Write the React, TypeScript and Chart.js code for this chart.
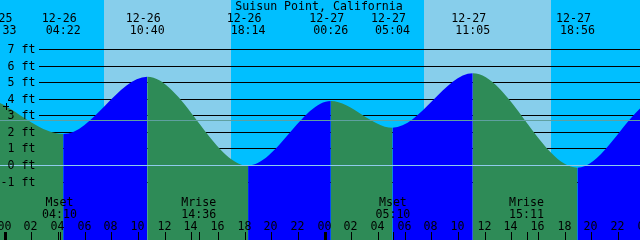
import React, { useEffect, useRef } from "react";
import { Chart, registerables } from "chart.js";

Chart.register(...registerables);

// ---- data ----
const title = "Suisun Point, California";
// tide extremes (day offset relative to 12-26, local time, height in ft)
const tideDates = ["12-25", "12-26", "12-26", "12-26", "12-27", "12-27", "12-27", "12-27"];
const tideTimes = ["23:33", "04:22", "10:40", "18:14", "00:26", "05:04", "11:05", "18:56"];
const tideDayOffset = [-1, 0, 0, 0, 1, 1, 1, 1];
const tideHeights = [3.8, 1.9, 5.37, 0.0, 3.9, 2.28, 5.57, -0.13];
// height read at the right edge of the picture (hours from 12-26 00:00, ft)
const edgeHour = 47.625;
const edgeHeight = 3.45;

// sunrise / sunset (hours from 12-26 00:00)
const sunrises = [7.43, 31.43];
const sunsets = [16.95, 40.95];

// moon events
const moonLabels = ["Mset", "Mrise", "Mset", "Mrise"];
const moonTimes = ["04:10", "14:36", "05:10", "15:11"];
const moonDayOffset = [0, 0, 1, 1];

// axes
const heightTicks = [-1, 0, 1, 2, 3, 4, 5, 6, 7];
const meanLevel = 2.75;
const xMin = -0.375;
const xMax = 47.625;
const yMin = -4.5;
const yMax = 10;
const hourTicks = [0, 2, 4, 6, 8, 10, 12, 14, 16, 18, 20, 22, 24, 26, 28, 30, 32, 34, 36, 38, 40, 42, 44, 46, 48];

// ---- styles ----
const NIGHT = "#00BFFF";
const DAY = "#87CEEB";
const FLOOD = "#0000FF";
const EBB = "#2E8B57";
const FONT = "11.6px 'DejaVu Sans Mono', monospace";

const toHours = (t: string, day: number) => {
  const [h, m] = t.split(":").map(Number);
  return day * 24 + h + m / 60;
};

const tideHours = tideTimes.map((t, i) => toHours(t, tideDayOffset[i]));
const moonHours = moonTimes.map((t, i) => toHours(t, moonDayOffset[i]));

const decorPlugin = {
  id: "tideDecor",
  beforeDraw(chart: any) {
    const { ctx, scales } = chart;
    const xs = scales.x;
    const W = chart.width;
    const H = chart.height;
    ctx.save();
    ctx.fillStyle = NIGHT;
    ctx.fillRect(0, 0, W, H);
    ctx.fillStyle = DAY;
    sunrises.forEach((sr, i) => {
      const a = Math.round(xs.getPixelForValue(sr));
      const b = Math.round(xs.getPixelForValue(sunsets[i]));
      ctx.fillRect(a, 0, b - a, H);
    });
    ctx.restore();
  },
  beforeDatasetsDraw(chart: any) {
    const { ctx, scales } = chart;
    const ys = scales.y;
    ctx.save();
    ctx.fillStyle = "#000";
    heightTicks.forEach((v) => {
      const y = Math.floor(ys.getPixelForValue(v));
      ctx.fillRect(39, y, chart.width - 39, 1);
    });
    ctx.restore();
  },
  afterDatasetsDraw(chart: any) {
    const { ctx, scales } = chart;
    const xs = scales.x;
    const ys = scales.y;
    const W = chart.width;
    ctx.save();
    // mean level and datum lines
    ctx.fillStyle = "#5fa0a0";
    ctx.fillRect(0, Math.floor(ys.getPixelForValue(meanLevel)), W, 1);
    ctx.fillStyle = "#8fcbec";
    ctx.fillRect(0, Math.floor(ys.getPixelForValue(0)), W, 1);

    ctx.fillStyle = "#000";
    ctx.font = FONT;
    // height labels
    ctx.textAlign = "right";
    ctx.textBaseline = "alphabetic";
    heightTicks.forEach((v) => {
      const y = Math.floor(ys.getPixelForValue(v));
      ctx.fillText(`${v} ft`, 35.5, y + 4);
    });
    // small cross marker
    ctx.fillRect(3, 106, 6, 1);
    ctx.fillRect(6, 103, 1, 7);

    // title
    ctx.textAlign = "center";
    ctx.fillText(title, 319, 10);

    // tide event labels
    tideHours.forEach((h, i) => {
      const x = xs.getPixelForValue(h);
      ctx.fillText(tideDates[i], x - 4, 21.5);
      ctx.fillText(tideTimes[i], x, 34);
    });

    // moon labels
    moonHours.forEach((h, i) => {
      const x = xs.getPixelForValue(h);
      ctx.fillText(moonLabels[i], x - 1, 206);
      ctx.fillText(moonTimes[i], x - 1, 218);
      ctx.fillRect(Math.floor(x), 232, 1, 8);
    });

    // hour ticks
    hourTicks.forEach((h) => {
      const x = Math.floor(xs.getPixelForValue(h));
      const lbl = String(h % 24).padStart(2, "0");
      ctx.fillText(lbl, x - 0.5, 229.5);
      if (h % 24 === 0) ctx.fillRect(x - 1, 232, 3, 8);
      else ctx.fillRect(x, 232, 1, 8);
    });
    ctx.restore();
  },
};

export default function App() {
  const ref = useRef<HTMLCanvasElement | null>(null);
  useEffect(() => {
    if (!ref.current) return;
    const points = tideHours.map((h, i) => ({ x: h, y: tideHeights[i] }));
    points.push({ x: edgeHour, y: edgeHeight });
    const chart = new Chart(ref.current, {
      type: "line",
      data: {
        datasets: [
          {
            data: points,
            fill: "start",
            cubicInterpolationMode: "monotone",
            borderWidth: 0,
            pointRadius: 0,
            backgroundColor: EBB,
            segment: {
              backgroundColor: (c: any) => (c.p1.parsed.y > c.p0.parsed.y ? FLOOD : EBB),
            },
          } as any,
        ],
      },
      options: {
        animation: false,
        responsive: false,
        maintainAspectRatio: false,
        events: [],
        layout: { padding: 0 },
        plugins: { legend: { display: false }, tooltip: { enabled: false } },
        scales: {
          x: { type: "linear", min: xMin, max: xMax, display: false },
          y: { type: "linear", min: yMin, max: yMax, display: false },
        },
      },
      plugins: [decorPlugin],
    });
    return () => chart.destroy();
  }, []);
  return (
    <div style={{ position: "fixed", left: 0, top: 0, width: 640, height: 240 }}>
      <canvas ref={ref} width={640} height={240} style={{ display: "block" }} />
    </div>
  );
}
